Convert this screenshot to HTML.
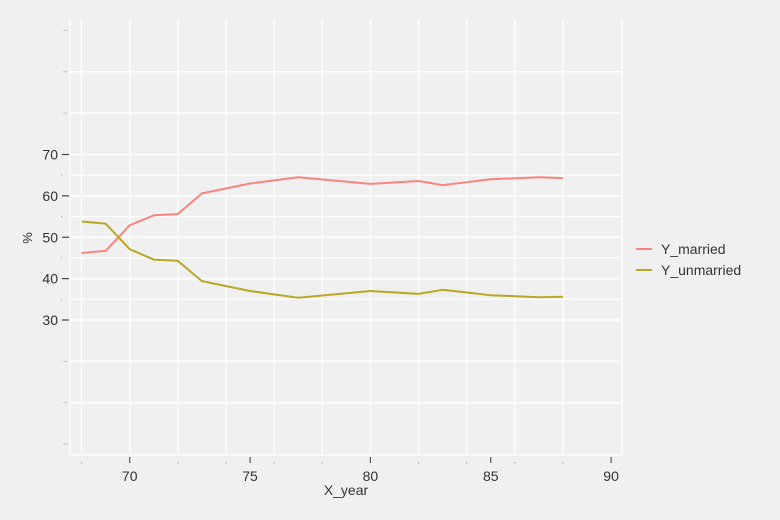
<!DOCTYPE html>
<html><head><meta charset="utf-8"><style>
html,body{margin:0;padding:0;background:#f0f0f0;}
svg{display:block;font-family:"Liberation Sans",Arial,sans-serif;}
</style></head><body>
<svg id="chart" width="780" height="520" viewBox="0 0 780 520" xmlns="http://www.w3.org/2000/svg">
<rect x="0" y="0" width="780" height="520" fill="#f0f0f0"/>
<g id="grid"></g>
<g id="axes"></g>
<g id="series"></g>
<text x="32" y="238" font-size="13" fill="#333" text-anchor="middle" transform="rotate(-90 32 238)">%</text>
<text x="346" y="495" font-size="14" fill="#333" text-anchor="middle">X_year</text>
<g>
 <g>
  <line x1="636" y1="249" x2="652" y2="249" stroke="#f8857e" stroke-width="2"/>
  <text x="661" y="254" font-size="14" fill="#333">Y_married</text>
 </g>
 <g>
  <line x1="636" y1="270" x2="652" y2="270" stroke="#b8a825" stroke-width="2"/>
  <text x="661" y="275" font-size="14" fill="#333">Y_unmarried</text>
 </g>
</g>
</svg>
<script>
const years = [68,69,70,71,72,73,75,77,80,82,83,85,87,88];
const married = [46.2,46.7,52.9,55.3,55.6,60.6,63.0,64.5,62.9,63.6,62.6,64.0,64.5,64.3];
const unmarried = [53.8,53.3,47.1,44.6,44.3,39.4,37.0,35.4,37.0,36.3,37.3,36.0,35.5,35.6];
const yTickLabels = [30,40,50,60,70];
const xTickLabels = [70,75,80,85,90];

const NS = "http://www.w3.org/2000/svg";
const L = 70, R = 622, T = 19, B = 455;
function xS(v){ return 129.7 + (v - 70) * 24.07; }
function yS(v){ return 320 - (v - 30) * 4.1375; }
function mk(parent, tag, attrs){
  const e = document.createElementNS(NS, tag);
  for (const k in attrs) e.setAttribute(k, attrs[k]);
  document.getElementById(parent).appendChild(e);
  return e;
}
// horizontal grid
for (let v = 10; v <= 90; v += 5) {
  if (v < 30 || v > 70) { if (v % 10) continue; }
  const g = mk('grid','line',{x1:L,x2:R,y1:yS(v),y2:yS(v),stroke:'#ffffff','stroke-width':(v%10===0)?1.6:1.2});
  
  
}
// vertical grid
for (let v = 68; v <= 88; v += 2) {
  const g = mk('grid','line',{x1:xS(v),x2:xS(v),y1:T,y2:B,stroke:'#ffffff','stroke-width':1.4});
  
  
}
// frame lines
const fl = mk('axes','line',{x1:L,x2:L,y1:T,y2:B,stroke:'#ffffff','stroke-width':1.2});


const fb = mk('axes','line',{x1:L,x2:R,y1:B,y2:B,stroke:'#ffffff','stroke-width':1.2});


const fr = mk('axes','line',{x1:R,x2:R,y1:T,y2:B,stroke:'#ffffff','stroke-width':1.4});


// y unlabeled ticks
[0,10,20,80,90,100].forEach(v => {
  const t = mk('axes','line',{x1:63,x2:68,y1:yS(v),y2:yS(v),stroke:'#c8c8c8','stroke-width':1});
  
  
});
[35,45,55,65].forEach(v => {
  const t = mk('axes','line',{x1:61,x2:62,y1:yS(v),y2:yS(v),stroke:'#999','stroke-width':1});
  
  
});
yTickLabels.forEach(v => {
  const t = mk('axes','line',{x1:62,x2:69,y1:yS(v),y2:yS(v),stroke:'#444','stroke-width':1.2});
  
  
  const tx = mk('axes','text',{x:58,y:yS(v)+5,'font-size':14,fill:'#333','text-anchor':'end'});
  tx.textContent = v;
  
  
});
xTickLabels.forEach(v => {
  const t = mk('axes','line',{x1:xS(v),x2:xS(v),y1:457,y2:463,stroke:'#555','stroke-width':1.2});
  
  
  const tx = mk('axes','text',{x:xS(v),y:481,'font-size':14,fill:'#333','text-anchor':'middle'});
  tx.textContent = v;
  
  
});
for (let v = 68; v <= 88; v += 2) {
  if (v % 5 === 0) continue;
  const t = mk('axes','rect',{x:xS(v)-0.5,y:462,width:1,height:1.5,fill:'#999'});
  
  
}
function drawLine(vals, color, name){
  const pts = years.map((y,i) => xS(y).toFixed(1) + ',' + yS(vals[i]).toFixed(1)).join(' ');
  const p = mk('series','polyline',{points:pts,fill:'none',stroke:color,'stroke-width':2,'stroke-linejoin':'round'});
  
  
}
drawLine(married, '#f8857e', 'line-married');
drawLine(unmarried, '#b8a825', 'line-unmarried');
</script>
</body></html>
